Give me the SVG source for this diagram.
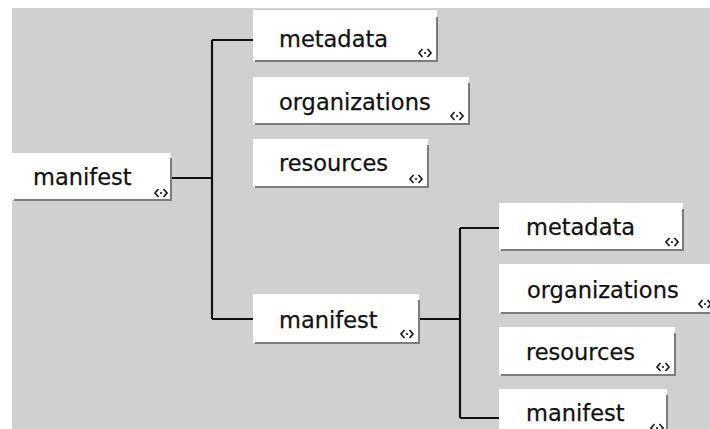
<svg xmlns="http://www.w3.org/2000/svg" xmlns:xlink="http://www.w3.org/1999/xlink" width="710" height="429" viewBox="0 0 710 429">
<style>
.box{fill:#ffffff}
.sh{stroke:#7c7c7c;stroke-width:2;fill:none}
.lbl{font-family:"DejaVu Sans","Liberation Sans",sans-serif;font-size:22.5px;fill:#111111;stroke:#111111;stroke-width:0.25}
.con{stroke:#111111;stroke-width:2.2;fill:none}
.ic{stroke:#1a1a1a;stroke-width:1.7;fill:none}
</style>
<defs>
<g id="icon">
<path class="ic" d="M-2.5,-4 L-6,0 L-2.5,4 M2.5,-4 L6,0 L2.5,4"/>
<circle cx="0" cy="0" r="1.1" fill="#1a1a1a"/>
</g>
</defs>
<rect x="0" y="0" width="710" height="429" fill="#ffffff"/>
<rect x="12" y="8" width="698" height="421" fill="#d0d0d0"/>
<g id="connectors">
<path class="con" d="M171,178 H212 M212,40 V319 M212,40 H253 M212,319 H253"/>
<path class="con" d="M419,319 H460 M460,228 V418 M460,228 H499 M460,418 H499"/>
</g>
<g id="n_root">
<rect class="box" x="12" y="153" width="159" height="47"/>
<path class="sh" d="M14,200 H171 V158"/>
<text class="lbl" x="33" y="185">manifest</text>
<use xlink:href="#icon" x="161" y="193"/>
</g>
<g id="n_metadata1">
<rect class="box" x="253" y="10" width="184" height="51"/>
<path class="sh" d="M255,61 H437 V17"/>
<text class="lbl" x="279" y="47">metadata</text>
<use xlink:href="#icon" x="425" y="53"/>
</g>
<g id="n_organizations1">
<rect class="box" x="253" y="77" width="216" height="47"/>
<path class="sh" d="M255,124 H469 V83"/>
<text class="lbl" x="279" y="110">organizations</text>
<use xlink:href="#icon" x="457" y="116"/>
</g>
<g id="n_resources1">
<rect class="box" x="253" y="139" width="175" height="48"/>
<path class="sh" d="M255,187 H428 V145"/>
<text class="lbl" x="279" y="171">resources</text>
<use xlink:href="#icon" x="416" y="179"/>
</g>
<g id="n_manifest1">
<rect class="box" x="253" y="294" width="166" height="49"/>
<path class="sh" d="M255,343 H419 V300"/>
<text class="lbl" x="279" y="328">manifest</text>
<use xlink:href="#icon" x="407" y="334"/>
</g>
<g id="n_metadata2">
<rect class="box" x="499" y="203" width="184" height="47"/>
<path class="sh" d="M501,250 H683 V209"/>
<text class="lbl" x="526" y="235">metadata</text>
<use xlink:href="#icon" x="672" y="242"/>
</g>
<g id="n_organizations2">
<rect class="box" x="499" y="264" width="218" height="49"/>
<path class="sh" d="M501,313 H717 V270"/>
<text class="lbl" x="527" y="298">organizations</text>
<use xlink:href="#icon" x="705" y="304"/>
</g>
<g id="n_resources2">
<rect class="box" x="499" y="327" width="176" height="48"/>
<path class="sh" d="M501,375 H675 V333"/>
<text class="lbl" x="526" y="360">resources</text>
<use xlink:href="#icon" x="663" y="367"/>
</g>
<g id="n_manifest2">
<rect class="box" x="499" y="389" width="168" height="45"/>
<path class="sh" d="M667,434 V395"/>
<text class="lbl" x="526" y="421">manifest</text>
<use xlink:href="#icon" x="657" y="428"/>
</g>
</svg>
